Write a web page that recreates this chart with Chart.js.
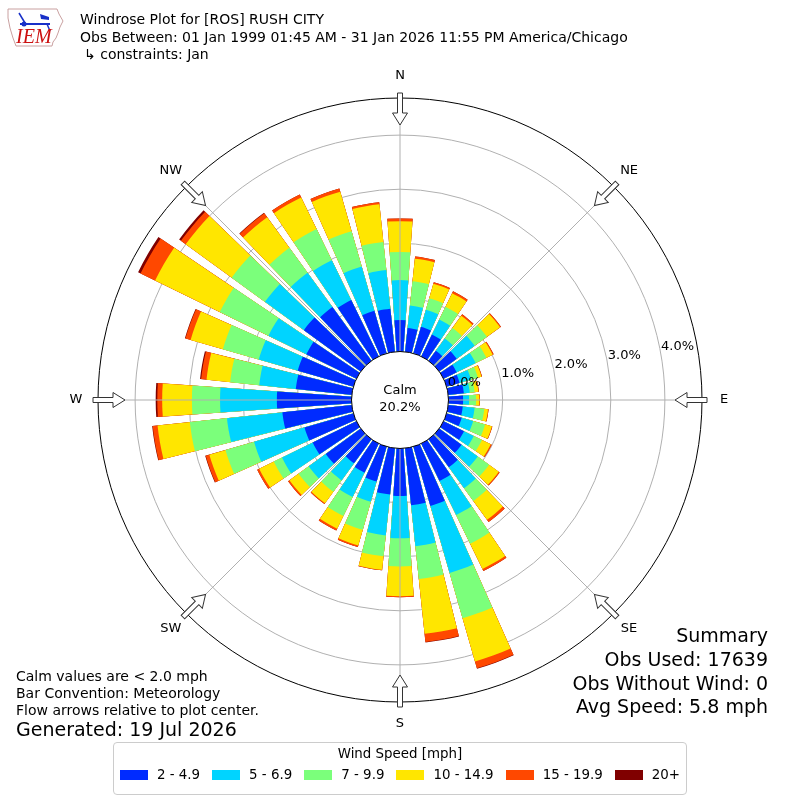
<!DOCTYPE html>
<html>
<head>
<meta charset="utf-8">
<script src="https://cdn.jsdelivr.net/npm/chart.js@4.4.1/dist/chart.umd.min.js"></script>
<style>
body { margin: 0; background: #fff; font-family: "DejaVu Sans", sans-serif; }
#wrap { position: relative; width: 800px; height: 800px; overflow: hidden; }
#rose { position: absolute; left: 0; top: 0; }
.t { position: absolute; white-space: nowrap; color: #000; line-height: 1; }
.hdr { font-size: 14px; left: 80px; }
.foot { font-size: 14px; left: 16px; }
.sum { font-size: 19px; right: 32px; text-align: right; }
#legend { position: absolute; left: 113px; top: 742px; width: 572px; height: 51px;
          border: 1px solid #cccccc; border-radius: 4px; background: #fff; }
#legend .title { position: absolute; left: 0; right: 0; top: 3px; text-align: center; font-size: 13.4px; white-space: nowrap; }
#legend .row { position: absolute; left: 0; right: 0; top: 24px; display: flex; justify-content: center; align-items: center; }
#legend .sw { width: 28px; height: 10px; margin-right: 9px; flex-shrink: 0; }
#legend .lab { font-size: 13.4px; margin-right: 12px; white-space: nowrap; flex-shrink: 0; }
#legend .lab:last-child { margin-right: 0; }
</style>
</head>
<body>
<div id="wrap">
  <canvas id="rose" width="800" height="800"></canvas>

  <svg style="position:absolute;left:0;top:0" width="70" height="52">
    <polygon points="8,9 57,9 59,14 63,21 60,27 58,33 56,38 53,42 52,46 16,46 13,38 10,28 8,18"
             fill="none" stroke="#c9a0a0" stroke-width="1"/>
    <line x1="20" y1="24" x2="50" y2="24" stroke="#1830c8" stroke-width="2"/>
    <line x1="19" y1="13" x2="25" y2="23" stroke="#1830c8" stroke-width="1.5"/>
    <polygon points="40,14 49,17 49,20 41,19" fill="#1830c8"/>
    <circle cx="24" cy="24" r="2.5" fill="#1830c8"/>
    <line x1="47" y1="24" x2="50" y2="31" stroke="#1830c8" stroke-width="1.5"/>
    <text x="16" y="43" font-family="Liberation Serif, serif" font-style="italic" font-size="20" fill="#cc1010">IEM</text>
  </svg>

  <div class="t hdr" style="top:12px">Windrose Plot for [ROS] RUSH CITY</div>
  <div class="t hdr" style="top:30px">Obs Between: 01 Jan 1999 01:45 AM - 31 Jan 2026 11:55 PM America/Chicago</div>
  <div class="t hdr" style="top:47px;left:84px">↳ constraints: Jan</div>

  <div class="t foot" style="top:669px">Calm values are &lt; 2.0 mph</div>
  <div class="t foot" style="top:686px">Bar Convention: Meteorology</div>
  <div class="t foot" style="top:703px">Flow arrows relative to plot center.</div>
  <div class="t foot" style="top:720px;font-size:19px">Generated: 19 Jul 2026</div>

  <div class="t sum" style="top:626px">Summary</div>
  <div class="t sum" style="top:650px">Obs Used: 17639</div>
  <div class="t sum" style="top:674px">Obs Without Wind: 0</div>
  <div class="t sum" style="top:697px">Avg Speed: 5.8 mph</div>

  <div id="legend">
    <div class="title">Wind Speed [mph]</div>
    <div class="row" id="legendRow"></div>
  </div>
</div>

<script>
// direction the wind blows from, degrees
const directions = [0, 10, 20, 30, 40, 50, 60, 70, 80, 90, 100, 110,
                    120, 130, 140, 150, 160, 170, 180, 190, 200, 210, 220, 230,
                    240, 250, 260, 270, 280, 290, 300, 310, 320, 330, 340, 350];

const speedBins = ["2 - 4.9", "5 - 6.9", "7 - 9.9", "10 - 14.9", "15 - 19.9", "20+"];
const binColors = ["#002bff", "#00d4ff", "#7bff7b", "#ffe600", "#ff4800", "#800000"];

// percent of observations per direction, one array per speed bin
const speed2to5 = [0.58, 0.44, 0.51, 0.45, 0.23, 0.40, 0.27, 0.25, 0.29, 0.27, 0.27, 0.29,
                   0.42, 0.51, 0.64, 0.77, 1.14, 1.06, 0.88, 0.86, 0.67, 0.60, 0.55, 0.80,
                   0.90, 0.94, 1.29, 1.38, 1.04, 1.07, 1.03, 1.30, 1.23, 1.16, 0.82, 0.80];
const speed5to7 = [0.74, 0.42, 0.33, 0.31, 0.28, 0.41, 0.39, 0.22, 0.11, 0.11, 0.22, 0.22,
                   0.20, 0.37, 0.48, 0.70, 1.29, 0.76, 0.78, 0.76, 0.39, 0.50, 0.39, 0.39,
                   0.63, 0.97, 1.03, 1.05, 0.68, 0.75, 0.78, 0.89, 0.78, 0.82, 0.85, 0.72];
const speed7to10 = [0.52, 0.45, 0.22, 0.26, 0.24, 0.28, 0.22, 0.13, 0.09, 0.13, 0.18, 0.23,
                    0.17, 0.26, 0.29, 0.59, 0.87, 0.61, 0.52, 0.39, 0.54, 0.39, 0.26, 0.23,
                    0.17, 0.55, 0.69, 0.52, 0.54, 0.69, 1.00, 0.76, 0.57, 0.64, 0.68, 0.52];
const speed10to15 = [0.57, 0.42, 0.28, 0.28, 0.28, 0.30, 0.13, 0.07, 0.07, 0.06, 0.07, 0.13,
                     0.18, 0.22, 0.43, 0.52, 0.83, 1.02, 0.55, 0.25, 0.30, 0.26, 0.26, 0.21,
                     0.30, 0.31, 0.60, 0.55, 0.44, 0.62, 1.33, 1.05, 0.70, 0.65, 0.76, 0.70];
const speed15to20 = [0.05, 0.04, 0.03, 0.04, 0.03, 0.02, 0.02, 0.01, 0.01, 0.01, 0.01, 0.01,
                     0.02, 0.02, 0.05, 0.04, 0.13, 0.15, 0.02, 0.01, 0.03, 0.04, 0.02, 0.03,
                     0.04, 0.07, 0.09, 0.09, 0.10, 0.10, 0.30, 0.11, 0.09, 0.06, 0.06, 0.04];
const speed20up = [0, 0, 0, 0, 0, 0, 0, 0, 0, 0, 0, 0,
                   0, 0, 0, 0, 0.01, 0.01, 0, 0, 0, 0, 0, 0,
                   0, 0.01, 0.01, 0.03, 0.02, 0.01, 0.05, 0.04, 0.01, 0, 0, 0];

const ringTicks = [0, 1, 2, 3, 4];
const compassLabels = ["N", "NE", "E", "SE", "S", "SW", "W", "NW"];
const calmPercent = 20.2;

// radial axis: negative minimum leaves room for the calm circle
const rMin = -0.8965;
const rMax = 4.686;
const barAngle = 8;
const gapAngle = 2;

const bins = [speed2to5, speed5to7, speed7to10, speed10to15, speed15to20, speed20up];

// polar area arcs are not stacked, so draw running totals, smallest on top
const totals = [];
let running = directions.map(() => 0);
bins.forEach(bin => {
    running = running.map((v, i) => v + bin[i]);
    totals.push(running);
});

const datasets = totals.map((cum, k) => ({
    label: speedBins[k],
    data: cum.flatMap(v => [v, rMin]),
    backgroundColor: binColors[k],
    borderWidth: 0,
    angle: ctx => (ctx.dataIndex % 2 === 0 ? barAngle : gapAngle)
}));

const roseDecor = {
    id: "roseDecor",
    afterDatasetsDraw(chart) {
        const s = chart.scales.r;
        const ctx = chart.ctx;
        const r0 = s.getDistanceFromCenterForValue(0);
        ctx.save();
        ctx.strokeStyle = "#b0b0b0";
        ctx.lineWidth = 1;
        compassLabels.forEach((lab, i) => {
            const a = (i * 45 - 90) * Math.PI / 180;
            ctx.beginPath();
            ctx.moveTo(s.xCenter + r0 * Math.cos(a), s.yCenter + r0 * Math.sin(a));
            ctx.lineTo(s.xCenter + s.drawingArea * Math.cos(a), s.yCenter + s.drawingArea * Math.sin(a));
            ctx.stroke();
        });
        ctx.restore();
    },
    afterDraw(chart) {
        const s = chart.scales.r;
        const ctx = chart.ctx;
        const cx = s.xCenter, cy = s.yCenter, R = s.drawingArea;
        const r0 = s.getDistanceFromCenterForValue(0);
        ctx.save();

        // calm circle
        ctx.beginPath();
        ctx.arc(cx, cy, r0, 0, Math.PI * 2);
        ctx.fillStyle = "#fff";
        ctx.fill();
        ctx.strokeStyle = "#000";
        ctx.lineWidth = 1;
        ctx.stroke();
        ctx.fillStyle = "#000";
        ctx.font = "13px 'DejaVu Sans'";
        ctx.textAlign = "center";
        ctx.textBaseline = "middle";
        ctx.fillText("Calm", cx, cy - 9);
        ctx.fillText(calmPercent.toFixed(1) + "%", cx, cy + 8);

        // ring labels
        ctx.textAlign = "left";
        const la = 9.7 * Math.PI / 180;
        ringTicks.forEach(v => {
            const r = s.getDistanceFromCenterForValue(v);
            ctx.fillText(v.toFixed(1) + "%", cx + r * Math.cos(la), cy - 9 - r * Math.sin(la));
        });

        // flow arrows and compass labels
        compassLabels.forEach((lab, i) => {
            const a = (i * 45 - 90) * Math.PI / 180;
            ctx.save();
            ctx.translate(cx, cy);
            ctx.rotate(a);
            ctx.beginPath();
            ctx.moveTo(R - 27, 0);
            ctx.lineTo(R - 15, -7.5);
            ctx.lineTo(R - 15, -2.5);
            ctx.lineTo(R + 5, -2.5);
            ctx.lineTo(R + 5, 2.5);
            ctx.lineTo(R - 15, 2.5);
            ctx.lineTo(R - 15, 7.5);
            ctx.closePath();
            ctx.fillStyle = "#fff";
            ctx.fill();
            ctx.strokeStyle = "#333";
            ctx.lineWidth = 1;
            ctx.stroke();
            ctx.restore();

            ctx.fillStyle = "#000";
            ctx.textAlign = "center";
            ctx.textBaseline = "middle";
            ctx.fillText(lab, cx + (R + 22) * Math.cos(a), cy + (R + 22) * Math.sin(a));
        });
        ctx.restore();
    }
};

new Chart(document.getElementById("rose"), {
    type: "polarArea",
    data: {
        labels: directions.flatMap(d => [String(d), ""]),
        datasets: datasets
    },
    options: {
        responsive: false,
        animation: false,
        events: [],
        layout: { padding: 98 },
        plugins: { legend: { display: false }, tooltip: { enabled: false } },
        scales: {
            r: {
                min: rMin,
                max: rMax,
                startAngle: -barAngle / 2,
                z: 1,
                ticks: { display: false },
                angleLines: { display: false },
                pointLabels: { display: false },
                grid: {
                    circular: true,
                    lineWidth: 1,
                    color: ctx => (ctx.tick && ctx.tick.value > ringTicks[ringTicks.length - 1] + 0.1 ? "#000" : "#b0b0b0")
                },
                afterBuildTicks: scale => {
                    scale.ticks = ringTicks.slice(1).concat([rMax]).map(v => ({ value: v }));
                }
            }
        }
    },
    plugins: [roseDecor]
});

const row = document.getElementById("legendRow");
speedBins.forEach((name, k) => {
    const sw = document.createElement("div");
    sw.className = "sw";
    sw.style.background = binColors[k];
    const lab = document.createElement("div");
    lab.className = "lab";
    lab.textContent = name;
    row.appendChild(sw);
    row.appendChild(lab);
});
</script>
</body>
</html>
